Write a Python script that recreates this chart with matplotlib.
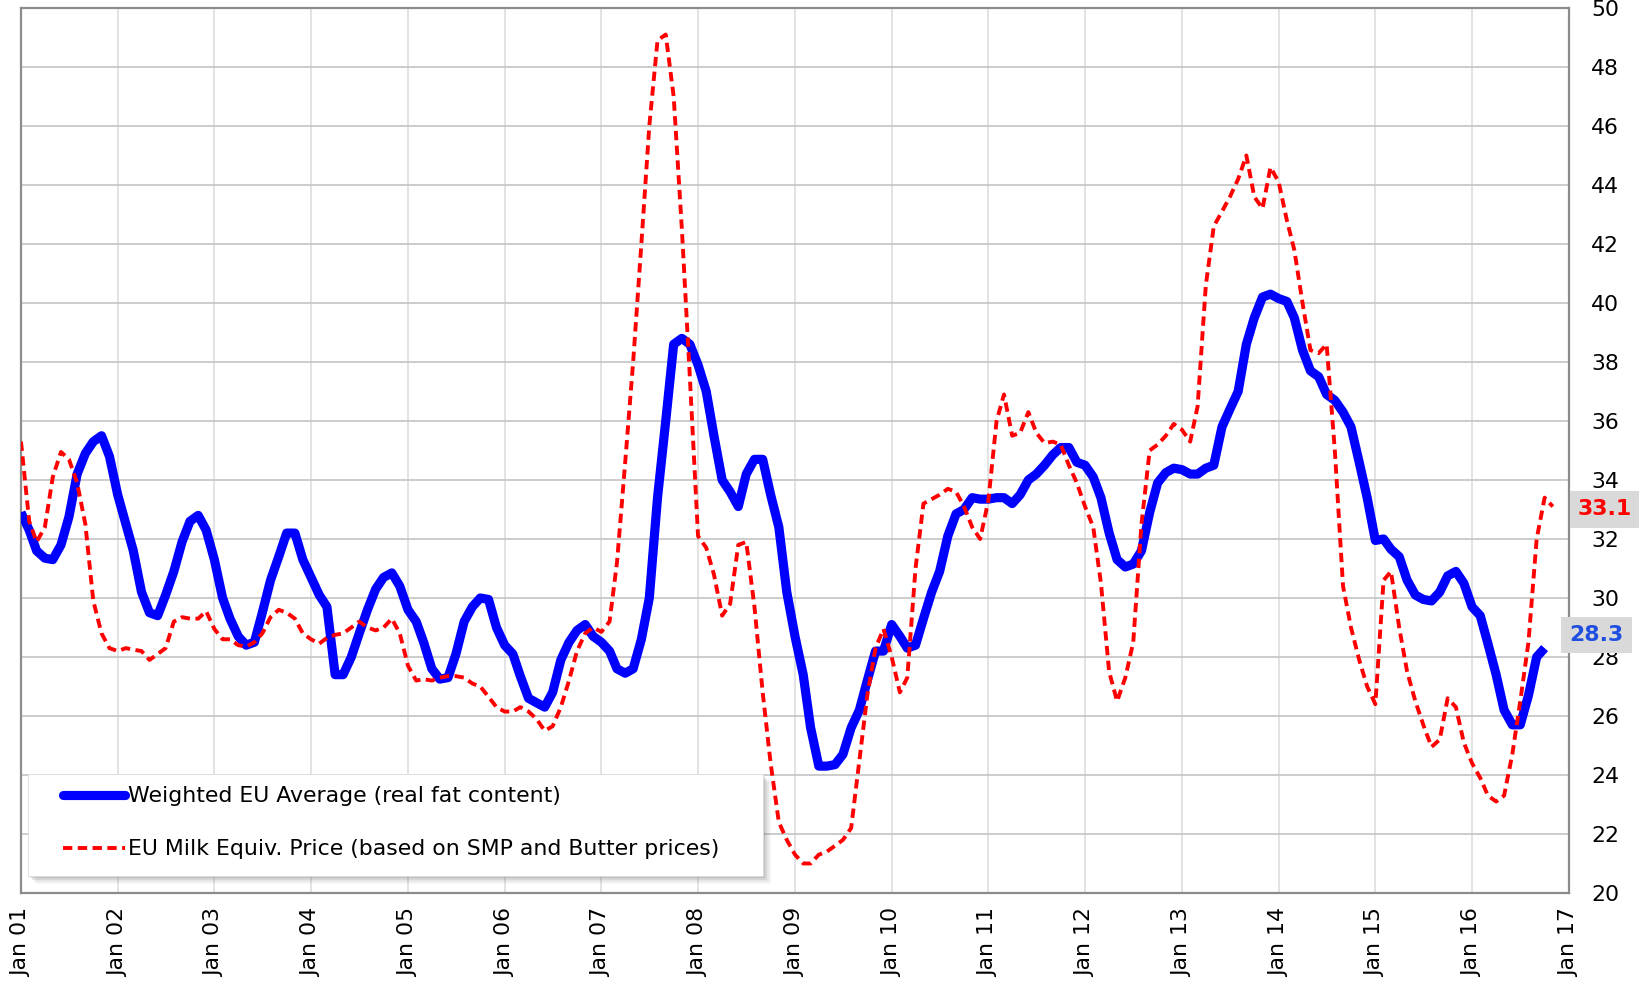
import numpy as np
import pandas as pd
import matplotlib
matplotlib.use("Agg")
import matplotlib.pyplot as plt
import matplotlib.dates as mdates
import matplotlib.transforms as mtransforms
from matplotlib.patches import Rectangle
from matplotlib.lines import Line2D

plt.rcParams['font.family'] = ['DejaVu Sans']

# monthly values, Jan 2001 onwards (c/kg)
weighted_eu_avg = [
    32.9, 32.3, 31.6, 31.35, 31.3, 31.8, 32.75, 34.2, 34.9, 35.3, 35.5, 34.8,
    33.5, 32.5, 31.6, 30.2, 29.5, 29.4, 30.1, 30.9, 31.9, 32.6, 32.8, 32.3,
    31.3, 30.0, 29.3, 28.7, 28.4, 28.5, 29.5, 30.6, 31.4, 32.2, 32.2, 31.3,
    30.7, 30.1, 29.7, 27.4, 27.4, 28.0, 28.8, 29.6, 30.3, 30.7, 30.85, 30.4,
    29.6, 29.2, 28.5, 27.6, 27.25, 27.3, 28.1, 29.2, 29.7, 30.0, 29.95, 29.0,
    28.4, 28.1, 27.35, 26.6, 26.45, 26.3, 26.8, 27.9, 28.5, 28.9, 29.1, 28.7,
    28.5, 28.2, 27.6, 27.45, 27.6, 28.6, 30.0, 33.4, 36.0, 38.6, 38.8, 38.6,
    37.9, 37.0, 35.5, 34.0, 33.6, 33.1, 34.2, 34.7, 34.7, 33.5, 32.4, 30.2,
    28.7, 27.4, 25.6, 24.3, 24.3, 24.35, 24.7, 25.6, 26.2, 27.2, 28.2, 28.2,
    29.1, 28.7, 28.3, 28.4, 29.3, 30.2, 30.9, 32.1, 32.85, 33.0, 33.4, 33.35,
    33.35, 33.4, 33.4, 33.2, 33.5, 34.0, 34.2, 34.5, 34.85, 35.1, 35.1, 34.6,
    34.5, 34.1, 33.4, 32.2, 31.3, 31.05, 31.15, 31.6, 32.9, 33.9, 34.25, 34.4,
    34.35, 34.2, 34.2, 34.4, 34.5, 35.8, 36.4, 37.0, 38.6, 39.5, 40.2, 40.3,
    40.15, 40.05, 39.5, 38.4, 37.7, 37.5, 36.9, 36.7, 36.3, 35.8, 34.6, 33.4,
    31.95, 32.0, 31.65, 31.4, 30.6, 30.1, 29.95, 29.9, 30.2, 30.75, 30.9, 30.5,
    29.7, 29.4, 28.45, 27.4, 26.2, 25.7, 25.7, 26.7, 28.0, 28.3,
]

milk_equiv_price = [
    35.3, 32.6, 31.9, 32.4, 34.1, 34.95, 34.7, 33.9, 32.5, 29.9, 28.8, 28.3,
    28.2, 28.3, 28.25, 28.2, 27.9, 28.1, 28.3, 29.2, 29.35, 29.3, 29.3, 29.55,
    28.95, 28.6, 28.6, 28.4, 28.35, 28.5, 28.8, 29.35, 29.6, 29.5, 29.3, 28.8,
    28.6, 28.45, 28.65, 28.75, 28.8, 29.0, 29.2, 29.0, 28.9, 29.0, 29.3, 28.8,
    27.7, 27.2, 27.25, 27.2, 27.3, 27.35, 27.35, 27.3, 27.1, 27.0, 26.65, 26.3,
    26.15, 26.15, 26.3, 26.15, 25.9, 25.5, 25.65, 26.3, 27.2, 28.2, 28.8, 29.0,
    28.85, 29.2, 31.2, 34.6, 38.0, 42.0, 46.0, 48.9, 49.1, 47.0, 42.5, 37.5,
    32.1, 31.7, 30.8, 29.4, 29.8, 31.8, 31.9, 29.7, 26.8, 24.4, 22.4, 21.8,
    21.3, 21.0, 21.0, 21.3, 21.4, 21.6, 21.8, 22.2, 24.5, 26.7, 28.3, 28.95,
    28.0, 26.8, 27.3, 31.0, 33.2, 33.35, 33.5, 33.7, 33.6, 33.1, 32.4, 32.0,
    33.3, 36.0, 36.9, 35.5, 35.6, 36.3, 35.6, 35.25, 35.3, 35.2, 34.5, 33.9,
    33.1, 32.4, 30.5, 27.5, 26.5, 27.3, 28.5, 32.5, 35.0, 35.2, 35.5, 35.9,
    35.7, 35.3, 36.5, 40.6, 42.6, 43.1, 43.6, 44.2, 45.0, 43.6, 43.2, 44.6,
    44.1, 42.8, 41.8, 40.0, 38.4, 38.3, 38.6, 35.0, 30.4, 29.0, 27.9, 27.0,
    26.4, 30.6, 30.9, 29.0, 27.5, 26.5, 25.7, 24.95, 25.2, 26.6, 26.3, 25.1,
    24.4, 23.9, 23.3, 23.1, 23.3, 24.7, 26.5, 28.5, 32.0, 33.4, 33.1,
]

series_labels = [
    "Weighted EU Average (real fat content)",
    "EU Milk Equiv. Price (based on SMP and Butter prices)",
]

blue_dates = pd.date_range("2001-01-01", periods=len(weighted_eu_avg), freq="MS")
red_dates = pd.date_range("2001-01-01", periods=len(milk_equiv_price), freq="MS")

BLUE = "#0000FF"
RED = "#FF0000"
FS = 15.8

fig = plt.figure(figsize=(16.4, 9.84), dpi=100)
ax = fig.add_axes([0.0128, 0.0925, 0.9439, 0.8994])

ax.plot(blue_dates, weighted_eu_avg, color=BLUE, lw=6.6,
        solid_joinstyle="round", solid_capstyle="butt", zorder=3)
ax.plot(red_dates, milk_equiv_price, color=RED, lw=2.8,
        dashes=(2.4, 1.4), zorder=4)

ax.set_xlim(pd.Timestamp("2001-01-01"), pd.Timestamp("2017-01-01"))
ax.set_ylim(20, 50)
ax.set_yticks(np.arange(20, 51, 2))
ax.xaxis.set_major_locator(mdates.YearLocator())
ax.xaxis.set_major_formatter(mdates.DateFormatter("%b %y"))

ax.yaxis.tick_right()
ax.tick_params(axis="y", length=0, pad=16, labelsize=FS)
ax.tick_params(axis="x", length=0, pad=11, labelsize=FS, labelrotation=90)

# grid: horizontal darker than vertical
ax.grid(axis="y", color="#c4c4c4", lw=1.2, zorder=0)
ax.grid(axis="x", color="#dedede", lw=1.2, zorder=0)
ax.set_axisbelow(True)
for sp in ax.spines.values():
    sp.set_color("#8c8c8c")
    sp.set_linewidth(1.6)

# legend box with soft shadow (shifted copies, offsets in pixels)
box_xy, box_w, box_h = (0.0045, 0.0192), 0.475, 0.115
for off, a in [(8, 0.06), (6, 0.09), (4, 0.13), (2, 0.18)]:
    tr = mtransforms.offset_copy(ax.transAxes, fig=fig, x=off, y=-off,
                                 units="dots")
    ax.add_patch(Rectangle(box_xy, box_w, box_h, transform=tr,
                           fc="#606060", ec="none", alpha=a, zorder=5))
ax.add_patch(Rectangle(box_xy, box_w, box_h, transform=ax.transAxes,
                       fc="white", ec="#dcdcdc", lw=0.6, zorder=6))

handles = [
    Line2D([], [], color=BLUE, lw=6.6, solid_capstyle="round"),
    Line2D([], [], color=RED, lw=2.8, dashes=(2.4, 1.4)),
]
leg = ax.legend(handles, series_labels, loc="upper left",
                bbox_to_anchor=(0.0271, 0.1205), frameon=False,
                borderpad=0, borderaxespad=0, handlelength=2.85,
                handletextpad=0.1, labelspacing=1.5, fontsize=FS)
leg.set_zorder(7)

# last-value labels on the right
ax.annotate(f"{milk_equiv_price[-1]:.1f}", xy=(1.0, milk_equiv_price[-1]),
            xycoords=("axes fraction", "data"), xytext=(26, -2),
            textcoords="offset points", ha="center", va="center",
            color=RED, fontsize=FS, fontweight="bold",
            bbox=dict(boxstyle="square,pad=0.38", fc="#d9d9d9", ec="none"),
            annotation_clip=False)
ax.annotate(f"{weighted_eu_avg[-1]:.1f}", xy=(1.0, weighted_eu_avg[-1]),
            xycoords=("axes fraction", "data"), xytext=(20, 9.5),
            textcoords="offset points", ha="center", va="center",
            color="#1f4fe0", fontsize=FS, fontweight="bold",
            bbox=dict(boxstyle="square,pad=0.38", fc="#d9d9d9", ec="none"),
            annotation_clip=False)

fig.savefig("out.png", dpi=100)
